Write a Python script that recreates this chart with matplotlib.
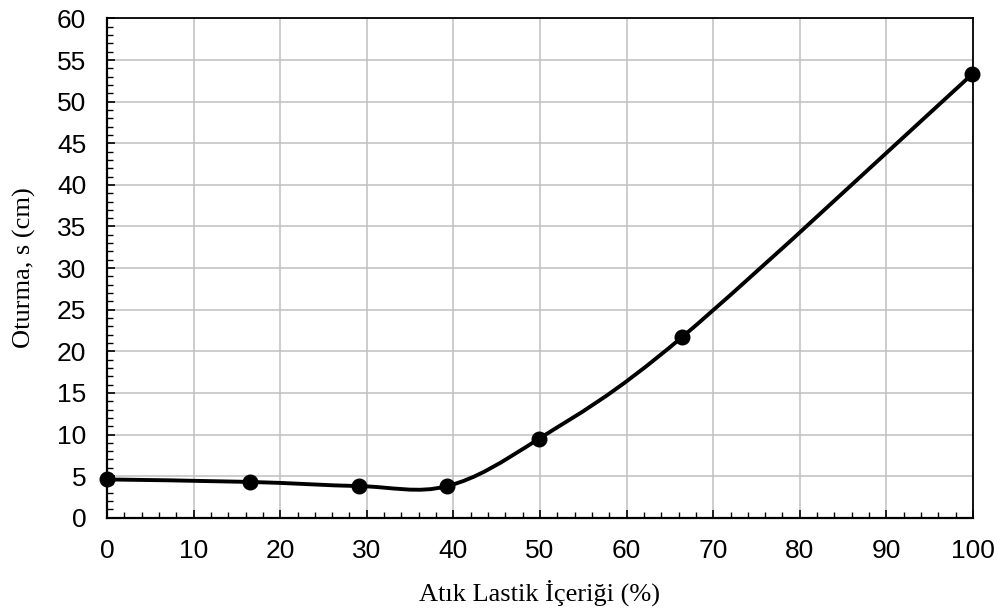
import matplotlib
matplotlib.use("Agg")
import matplotlib.pyplot as plt
from matplotlib.path import Path
from matplotlib.patches import PathPatch
from matplotlib.ticker import MultipleLocator
import numpy as np

# data
rubber_content = [0, 16.5, 29.1, 39.3, 49.9, 66.4, 99.9]
settlement = [4.6, 4.3, 3.8, 3.8, 9.5, 21.7, 53.3]

x_label = "Atık Lastik İçeriği (%)"
y_label = "Oturma, s (cm)"


def smooth_path(xs, ys):
    """Excel-like smoothed line as cubic Bezier segments."""
    pts = np.column_stack([xs, ys]).astype(float)
    n = len(pts)
    verts = [pts[0]]
    codes = [Path.MOVETO]
    for i in range(n - 1):
        p0 = pts[max(i - 1, 0)]
        p1 = pts[i]
        p2 = pts[i + 1]
        p3 = pts[min(i + 2, n - 1)]
        c1 = p1 + (p2 - p0) / 6.0
        c2 = p2 - (p3 - p1) / 6.0
        verts += [c1, c2, p2]
        codes += [Path.CURVE4] * 3
    return Path(verts, codes)


fig = plt.figure(figsize=(10.01, 6.10), dpi=100)
ax = fig.add_axes([0.1069, 0.1513, 0.8651, 0.8184])

ax.set_xlim(0, 100)
ax.set_ylim(0, 60)
ax.xaxis.set_major_locator(MultipleLocator(10))
ax.xaxis.set_minor_locator(MultipleLocator(2))
ax.yaxis.set_major_locator(MultipleLocator(5))
ax.yaxis.set_minor_locator(MultipleLocator(1))

ax.grid(True, which="major", color="#c0c0c0", linewidth=1.1, zorder=0)
ax.set_axisbelow(True)

ax.add_patch(PathPatch(smooth_path(rubber_content, settlement), facecolor="none",
                       edgecolor="black", linewidth=2.8, zorder=3,
                       capstyle="round", joinstyle="round"))
ax.plot(rubber_content, settlement, linestyle="none", marker="o",
        markersize=10.5, color="black", zorder=4, clip_on=False)

for side in ["left", "bottom"]:
    ax.spines[side].set_linewidth(1.6)
for side in ["top", "right"]:
    ax.spines[side].set_linewidth(1.3)

ax.tick_params(which="major", direction="in", length=6, width=1.2,
               labelsize=19, pad=15)
ax.tick_params(which="minor", direction="in", length=4, width=1.0)
for lab in ax.get_xticklabels() + ax.get_yticklabels():
    lab.set_fontfamily("Liberation Sans")

ax.set_xlabel(x_label, fontfamily="Liberation Serif", fontsize=19, labelpad=12)
ax.set_ylabel(y_label, fontfamily="Liberation Serif", fontsize=19, labelpad=15)

fig.savefig("out.png", dpi=100)
